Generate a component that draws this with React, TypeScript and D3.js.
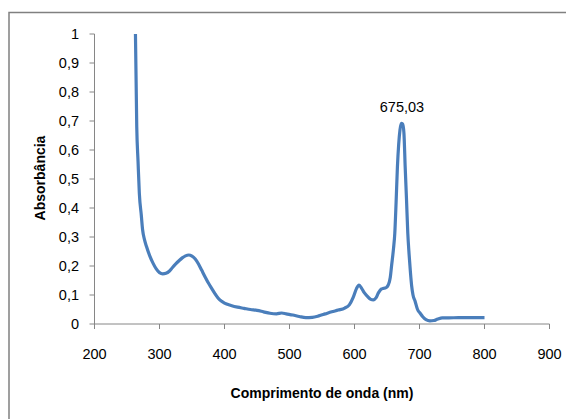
import React from "react";
import * as d3 from "d3";

// wavelength (nm) and absorbance
const wavelength = [
  263, 265, 267, 269, 272, 274, 277, 280, 285, 290, 295, 300, 305, 310, 315,
  320, 325, 330, 335, 340, 345, 350, 355, 360, 365, 370, 375, 380, 385, 390,
  395, 400, 410, 420, 430, 440, 450, 460, 470, 480, 488, 495, 505, 515, 525,
  535, 545, 555, 565, 575, 585, 592, 598, 603, 607, 611, 615, 620, 625, 629,
  633, 637, 641, 645, 649, 652, 655, 657, 660, 662, 664, 666, 668, 670, 672,
  674, 676, 678, 680, 682, 684, 686, 688, 690, 693, 697, 701, 705, 710, 716,
  722, 728, 735, 745, 760, 780, 800,
];
const absorbance = [
  1.0, 0.68, 0.56, 0.45, 0.375, 0.325, 0.29, 0.267, 0.235, 0.21, 0.19, 0.177,
  0.173, 0.175, 0.182, 0.195, 0.207, 0.218, 0.228, 0.235, 0.238, 0.234, 0.224,
  0.207, 0.185, 0.163, 0.142, 0.124, 0.106, 0.09, 0.079, 0.072, 0.064, 0.058,
  0.054, 0.05, 0.047, 0.042, 0.037, 0.035, 0.038, 0.035, 0.031, 0.026, 0.022,
  0.023, 0.028, 0.035, 0.042, 0.048, 0.055, 0.066, 0.092, 0.122, 0.134, 0.123,
  0.108, 0.095, 0.085, 0.083, 0.09, 0.108, 0.12, 0.123, 0.126, 0.135, 0.16,
  0.2, 0.26, 0.313, 0.42, 0.54, 0.62, 0.67, 0.692, 0.69, 0.66, 0.54, 0.43,
  0.313, 0.24, 0.18, 0.13, 0.1, 0.08, 0.05, 0.037, 0.025, 0.015, 0.011, 0.012,
  0.017, 0.021, 0.021, 0.022, 0.022, 0.022,
];
const xTicks = [200, 300, 400, 500, 600, 700, 800, 900];
const yTicks = [0, 0.1, 0.2, 0.3, 0.4, 0.5, 0.6, 0.7, 0.8, 0.9, 1];
const peakLabel = "675,03";
const peakAt = [673, 0.692];

const W = 566;
const H = 419;
const FONT = "'Liberation Sans', Arial, sans-serif";

export default function App() {
  const x = d3.scaleLinear().domain([200, 900]).range([94.5, 549.5]);
  const y = d3.scaleLinear().domain([0, 1]).range([324, 34]);
  const axisColor = "#868686";
  const fmt = (v: number) => String(+v.toFixed(1)).replace(".", ",");

  const points = wavelength.map((w, i) => [w, absorbance[i]] as [number, number]);
  const line = d3
    .line<[number, number]>()
    .x((d) => x(d[0]))
    .y((d) => y(d[1]))
    .curve(d3.curveMonotoneX);

  return (
    <svg
      width={W}
      height={H}
      style={{ position: "absolute", left: 0, top: 0, background: "#fff" }}
    >
      <rect x={9} y={12.5} width={700} height={600} fill="#fff" stroke="#808080" strokeWidth={1.5} />

      {/* y axis */}
      <line x1={x(200)} x2={x(200)} y1={y(0)} y2={y(1)} stroke={axisColor} strokeWidth={1} />
      {yTicks.map((t) => (
        <g key={t}>
          <line x1={x(200) - 5} x2={x(200)} y1={y(t)} y2={y(t)} stroke={axisColor} />
          <text
            x={79}
            y={y(t)}
            dy="0.35em"
            textAnchor="end"
            fontFamily={FONT}
            fontSize={14.5}
            fill="#000"
          >
            {fmt(t)}
          </text>
        </g>
      ))}

      {/* x axis */}
      <line x1={x(200)} x2={x(900)} y1={y(0)} y2={y(0)} stroke={axisColor} strokeWidth={1} />
      {xTicks.map((t) => (
        <g key={t}>
          <line x1={x(t)} x2={x(t)} y1={y(0)} y2={y(0) + 5} stroke={axisColor} />
          <text
            x={x(t)}
            y={354}
            dy="0.35em"
            textAnchor="middle"
            fontFamily={FONT}
            fontSize={14.5}
            fill="#000"
          >
            {t}
          </text>
        </g>
      ))}

      <path d={line(points) || ""} fill="none" stroke="#4a7ebb" strokeWidth={3.2} strokeLinejoin="round" />

      <text
        x={x(peakAt[0])}
        y={107}
        dy="0.35em"
        textAnchor="middle"
        fontFamily={FONT}
        fontSize={14.5}
      >
        {peakLabel}
      </text>

      <text
        x={322}
        y={393}
        dy="0.35em"
        textAnchor="middle"
        fontFamily={FONT}
        fontSize={14}
        fontWeight="bold"
      >
        Comprimento de onda (nm)
      </text>
      <text
        transform={`translate(40,178) rotate(-90)`}
        dy="0.35em"
        textAnchor="middle"
        fontFamily={FONT}
        fontSize={14}
        fontWeight="bold"
      >
        Absorbância
      </text>
    </svg>
  );
}
